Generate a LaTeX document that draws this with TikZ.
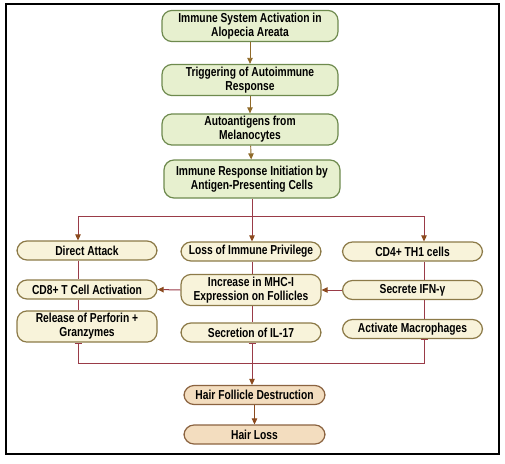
\documentclass[tikz,border=0pt]{standalone}
\usepackage{fontspec}
\setmainfont{Liberation Sans}[FakeStretch=0.79]
\usepackage{tikz}
\usetikzlibrary{arrows.meta,positioning,calc}

\definecolor{greenfill}{HTML}{E7F0CF}
\definecolor{greenline}{HTML}{6E8A4E}
\definecolor{creamfill}{HTML}{F8F3DA}
\definecolor{creamline}{HTML}{8C7A48}
\definecolor{tanfill}{HTML}{F3DDBF}
\definecolor{tanline}{HTML}{8B6340}
\definecolor{linkred}{HTML}{9A3B48}
\definecolor{tipbrown}{HTML}{8B4A1E}
\definecolor{topbrown}{HTML}{8F6A2A}

\begin{document}
\begin{tikzpicture}[
  x=1pt, y=-1pt,
  font=\bfseries\fontsize{13}{14}\selectfont,
  box/.style={draw, line width=1.2pt, rounded corners=10pt, align=center,
              inner sep=2.5pt, minimum height=19pt},
  stage/.style={box, fill=greenfill, draw=greenline, minimum width=176pt},
  path/.style={box, fill=creamfill, draw=creamline, minimum width=140pt},
  outcome/.style={box, fill=tanfill, draw=tanline, minimum width=141pt},
  arr/.style={-{Triangle[length=6pt, width=5.5pt, color=topbrown]}, line width=0.9pt, draw=topbrown},
  link/.style={line width=1pt, draw=linkred},
  linkarr/.style={link, -{Triangle[length=6pt, width=5.5pt, color=tipbrown]}},
  linkbar/.style={link, {Bar[width=7pt]}-}
]
\useasboundingbox (0,0) rectangle (505,463);
\draw[line width=1.5pt] (6,4) rectangle (499,454);

% top stages
\node[stage] (act) at (250,26) {Immune System Activation in\\Alopecia Areata};
\node[stage] (trig) at (250,80) {Triggering of Autoimmune\\Response};
\node[stage] (auto) at (250,129.5) {Autoantigens from\\Melanocytes};
\node[stage, minimum height=38pt] (init) at (252,179) {Immune Response Initiation by\\Antigen-Presenting Cells};
\draw[arr] (act) -- (trig);
\draw[arr] (trig) -- (auto);
\draw[arr] (auto) -- (init);

% three branches
\node[path] (direct) at (87,250.5) {Direct Attack};
\node[path] (loss) at (251,251.5) {Loss of Immune Privilege};
\node[path] (cd4) at (412.5,251.5) {CD4+ TH1 cells};

\node[path] (cd8) at (87,289.5) {CD8+ T Cell Activation};
\node[path] (mhc) at (251,290) {Increase in MHC-I\\Expression on Follicles};
\node[path] (ifn) at (412.5,290) {Secrete IFN-γ};

\node[path] (perf) at (87,326.5) {Release of Perforin +\\Granzymes};
\node[path] (il17) at (251,332.5) {Secretion of IL-17};
\node[path] (macro) at (412.5,329) {Activate Macrophages};

\coordinate (split) at (init.south |- 0,216);
\draw[link] (init.south) -- (split);
\draw[linkarr] (split) -| (direct.north -| 78,0);
\draw[linkarr] (split) -- (loss.north -| split);
\draw[linkarr] (split) -| (cd4.north -| 424,0);

\draw[link] (direct.south -| 78,0) -- (cd8.north -| 78,0);
\draw[link] (cd8.south -| 78,0) -- (perf.north -| 78,0);
\draw[link] (loss.south -| split) -- (mhc.north -| split);
\draw[link] (mhc.south -| split) -- (il17.north -| split);
\draw[link] (cd4.south -| 424,0) -- (ifn.north -| 424,0);
\draw[link] (ifn.south -| 424,0) -- (macro.north -| 424,0);

\draw[linkarr] (mhc.west) -- (cd8.east);
\draw[linkarr] (ifn.west) -- (mhc.east);

% outcome
\node[outcome] (hfd) at (254.5,395) {Hair Follicle Destruction};
\node[outcome] (loss2) at (254.5,434.5) {Hair Loss};

\coordinate (merge) at (split |- 0,363);
\draw[linkbar] (perf.south -| 78,0) |- (merge);
\draw[linkbar] (macro.south -| 424,0) |- (merge);
\draw[linkbar] (il17.south -| split) -- (merge);
\draw[linkarr] (merge) -- (hfd.north -| merge);
\draw[linkarr, draw=tipbrown] (hfd) -- (loss2);
\end{tikzpicture}
\end{document}
